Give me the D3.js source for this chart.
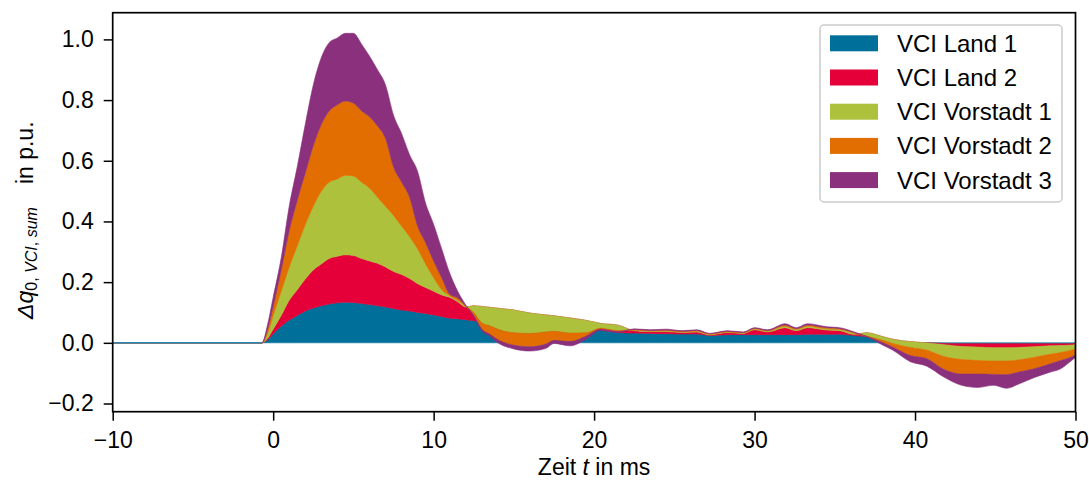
<!DOCTYPE html>
<html>
<head>
<meta charset="utf-8">
<script src="https://cdn.jsdelivr.net/npm/d3@7"></script>
<style>
  body { margin: 0; background: #fff; }
  svg { display: block; }
  text { font-family: "Liberation Sans", Arial, sans-serif; fill: #000; }
</style>
</head>
<body>
<div id="chart"></div>
<script>
// time axis (ms)
const times = [-10, -0.7, -0.35, 0, 0.5, 1, 1.5, 2, 2.5, 3, 3.5, 4, 4.5, 5, 5.5, 6, 6.5, 7, 7.5, 8,
  8.5, 9, 9.5, 10, 10.5, 11, 11.5, 12, 12.5, 13, 13.5, 14, 15, 16, 17, 17.5, 18.5, 19.5, 20.4, 21.5,
  22.5, 23.5, 24.5, 25.5, 26.4, 27.2, 28.3, 29.3, 30, 30.8, 31.9, 32.6, 33.3, 34.5, 35.3, 36.2, 37, 38, 38.6, 39.7,
  40.7, 41.8, 42.9, 43.9, 44.9, 45.7, 46.5, 47.4, 48.4, 49.1, 49.6, 50];

const seriesNames = ['VCI Land 1', 'VCI Land 2', 'VCI Vorstadt 1', 'VCI Vorstadt 2', 'VCI Vorstadt 3'];
const seriesColors = ['#00709a', '#e50039', '#adc13c', '#e26d00', '#8b307d'];

// Beitrag je Netz (p.u.), wird gestapelt
const land1 = [0, 0, 0.01, 0.03, 0.055, 0.075, 0.09, 0.105, 0.115, 0.122, 0.128, 0.132, 0.134, 0.133, 0.13, 0.126, 0.122, 0.118, 0.113, 0.108,
  0.105, 0.10, 0.097, 0.092, 0.087, 0.081, 0.079, 0.076, 0.073, 0.068, 0.065, 0.062, 0.058, 0.055, 0.052, 0.05, 0.047, 0.045, 0.042, 0.034,
  0.032, 0.031, 0.03, 0.029, 0.029, 0.024, 0.027, 0.027, 0.027, 0.027, 0.027, 0.027, 0.028, 0.028, 0.028, 0.024, 0.02, 0.008, 0.004, 0.001,
  0, -0.002, -0.003, -0.003, -0.003, -0.003, -0.003, -0.003, -0.003, -0.003, -0.003, -0.002];
const land2 = [0, 0, 0.005, 0.015, 0.035, 0.065, 0.085, 0.105, 0.125, 0.138, 0.15, 0.153, 0.156, 0.155, 0.148, 0.144, 0.14, 0.132, 0.122, 0.117,
  0.107, 0.095, 0.085, 0.078, 0.071, 0.069, 0.056, 0.042, 0.049, 0.052, 0.052, 0.052, 0.05, 0.043, 0.04, 0.039, 0.035, 0.029, 0.022, 0.024,
  0.008, 0.006, 0.007, 0.005, 0.007, 0.002, 0.007, 0.004, 0.016, 0.009, 0.023, 0.013, 0.022, 0.014, 0.012, 0.004, 0.013, 0.012, 0.008, 0.003,
  0, -0.004, -0.009, -0.011, -0.013, -0.013, -0.012, -0.01, -0.007, -0.006, -0.005, -0.004];
const vorstadt1 = [0, 0, 0.015, 0.045, 0.08, 0.11, 0.145, 0.18, 0.21, 0.24, 0.252, 0.255, 0.262, 0.262, 0.252, 0.24, 0.218, 0.20, 0.185, 0.16,
  0.138, 0.115, 0.078, 0.045, 0.017, 0.005, 0.005, 0.002, -0.022, -0.054, -0.061, -0.069, -0.075, -0.067, -0.056, -0.051, -0.05, -0.041, -0.016, -0.018,
  0.002, 0.002, 0.003, 0.002, 0.003, 0.002, 0.002, 0.002, 0.003, 0.003, 0.005, 0.004, 0.005, 0.004, 0.004, 0.004, -0.011, -0.012, -0.014, -0.019,
  -0.024, -0.039, -0.043, -0.044, -0.044, -0.044, -0.041, -0.035, -0.028, -0.023, -0.018, -0.014];
const vorstadt2 = [0, 0, 0.015, 0.03, 0.07, 0.12, 0.15, 0.17, 0.20, 0.22, 0.235, 0.245, 0.245, 0.24, 0.235, 0.235, 0.235, 0.224, 0.16, 0.145,
  0.13, 0.075, 0.07, 0.055, 0.04, 0.005, 0.008, 0.002, -0.01, -0.021, -0.028, -0.035, -0.041, -0.044, -0.04, -0.03, -0.028, -0.011, -0.003, -0.003,
  0.002, 0.002, 0.002, 0.002, 0.002, 0.002, 0.002, 0.001, 0.002, 0.002, 0.004, 0.003, 0.004, 0.004, 0.003, 0.002, -0.001, -0.008, -0.012, -0.027,
  -0.028, -0.043, -0.048, -0.045, -0.044, -0.045, -0.04, -0.038, -0.032, -0.026, -0.024, -0.02];
const vorstadt3 = [0, 0, 0.015, 0.03, 0.04, 0.08, 0.11, 0.16, 0.20, 0.22, 0.225, 0.22, 0.223, 0.23, 0.22, 0.20, 0.185, 0.176, 0.17, 0.16,
  0.14, 0.18, 0.13, 0.12, 0.095, 0.07, 0.022, 0.003, -0.005, -0.005, -0.006, -0.01, -0.012, -0.014, -0.014, -0.01, -0.014, -0.01, -0.004, -0.003,
  0.002, 0.002, 0.003, 0.002, 0.002, 0.001, 0.002, 0.002, 0.002, 0.002, 0.004, 0.003, 0.004, 0.003, 0.003, 0.002, -0.001, -0.008, -0.01, -0.02,
  -0.024, -0.025, -0.037, -0.044, -0.036, -0.045, -0.039, -0.029, -0.027, -0.027, -0.015, -0.008];

const xTicks = [-10, 0, 10, 20, 30, 40, 50];
const yTicks = [-0.2, 0, 0.2, 0.4, 0.6, 0.8, 1.0];

const W = 1089, H = 482;
const plot = { left: 112.7, right: 1075.5, top: 12.7, bottom: 411.7 };
const FONT = 23;

const seriesData = [land1, land2, vorstadt1, vorstadt2, vorstadt3];
const rows = times.map((t, i) => {
  const r = { t };
  seriesNames.forEach((name, k) => { r[name] = seriesData[k][i]; });
  return r;
});

const x = d3.scaleLinear().domain([-10, 50]).range([plot.left, plot.right]);
const y = d3.scaleLinear().domain([-0.227, 1.088]).range([plot.bottom, plot.top]);

const svg = d3.select('#chart').append('svg')
  .attr('width', W)
  .attr('height', H);

svg.append('defs').append('clipPath').attr('id', 'plotClip')
  .append('rect')
  .attr('x', plot.left).attr('y', plot.top)
  .attr('width', plot.right - plot.left).attr('height', plot.bottom - plot.top);

// gestapelte Flächen (kumulativ wie stackplot)
const stacked = d3.stack().keys(seriesNames)(rows);

const area = d3.area()
  .x(d => x(d.data.t))
  .y0(d => y(d[0]))
  .y1(d => y(d[1]))
  .curve(d3.curveMonotoneX);

const areasGroup = svg.append('g').attr('clip-path', 'url(#plotClip)');

areasGroup.selectAll('path.layer')
  .data(stacked)
  .enter()
  .append('path')
  .attr('class', 'layer')
  .attr('d', area)
  .attr('fill', (d, i) => seriesColors[i])
  .attr('stroke', (d, i) => seriesColors[i])
  .attr('stroke-width', 0.6)
  .attr('stroke-linejoin', 'round');

// Nulllinie vor dem Ereignis
const flatRows = rows.filter(r => seriesNames.every(n => r[n] === 0));
areasGroup.append('path')
  .datum(flatRows)
  .attr('d', d3.line().x(d => x(d.t)).y(() => y(0)))
  .attr('fill', 'none')
  .attr('stroke', '#2a8ab0')
  .attr('stroke-width', 1.6);

// Achsen
const xAxis = svg.append('g')
  .attr('transform', `translate(0,${plot.bottom})`)
  .call(d3.axisBottom(x).tickValues(xTicks).tickSize(9).tickPadding(11).tickFormat(d3.format('d')));

const yAxis = svg.append('g')
  .attr('transform', `translate(${plot.left},0)`)
  .call(d3.axisLeft(y).tickValues(yTicks).tickSize(9).tickPadding(10).tickFormat(d3.format('.1f')));

[xAxis, yAxis].forEach(ax => {
  ax.select('.domain').remove();
  ax.selectAll('.tick line').attr('stroke', '#000').attr('stroke-width', 1.5);
  ax.selectAll('.tick text')
    .attr('fill', '#000')
    .style('font-size', FONT + 'px')
    .style('font-family', '"Liberation Sans", Arial, sans-serif');
});

// Rahmen
svg.append('rect')
  .attr('x', plot.left).attr('y', plot.top)
  .attr('width', plot.right - plot.left).attr('height', plot.bottom - plot.top)
  .attr('fill', 'none')
  .attr('stroke', '#000')
  .attr('stroke-width', 1.7);

// x-Beschriftung
const xLabel = svg.append('text')
  .attr('x', (plot.left + plot.right) / 2)
  .attr('y', 475)
  .attr('text-anchor', 'middle')
  .style('font-size', FONT + 'px');
xLabel.append('tspan').text('Zeit ');
xLabel.append('tspan').style('font-style', 'italic').text('t');
xLabel.append('tspan').text(' in ms');

// y-Beschriftung
const yLabel = svg.append('text')
  .attr('transform', `translate(33,${(plot.top + plot.bottom) / 2 + 8}) rotate(-90)`)
  .attr('text-anchor', 'middle')
  .style('font-size', FONT + 'px');
yLabel.append('tspan').style('font-style', 'italic').text('Δq');
yLabel.append('tspan').attr('dy', 4).style('font-size', '16px').text('0, ');
yLabel.append('tspan').style('font-size', '16px').style('font-style', 'italic').text('VCI');
yLabel.append('tspan').style('font-size', '16px').text(', ');
yLabel.append('tspan').style('font-size', '16px').style('font-style', 'italic').text('sum');
yLabel.append('tspan').attr('dy', -4).attr('xml:space', 'preserve').text('\u2002\u2002in p.u.');

// Legende
const legend = svg.append('g').attr('transform', 'translate(820,25)');
legend.append('rect')
  .attr('width', 242).attr('height', 177)
  .attr('rx', 4)
  .attr('fill', '#fff')
  .attr('fill-opacity', 0.8)
  .attr('stroke', '#cccccc')
  .attr('stroke-width', 1.5);

const items = legend.selectAll('g.item')
  .data(seriesNames)
  .enter()
  .append('g')
  .attr('class', 'item')
  .attr('transform', (d, i) => `translate(0,${18.3 + i * 34.2})`);

items.append('rect')
  .attr('x', 10).attr('y', -8)
  .attr('width', 48).attr('height', 16)
  .attr('fill', (d, i) => seriesColors[i]);

items.append('text')
  .attr('x', 77)
  .attr('y', 8.5)
  .style('font-size', '24px')
  .text(d => d);
</script>
</body>
</html>
